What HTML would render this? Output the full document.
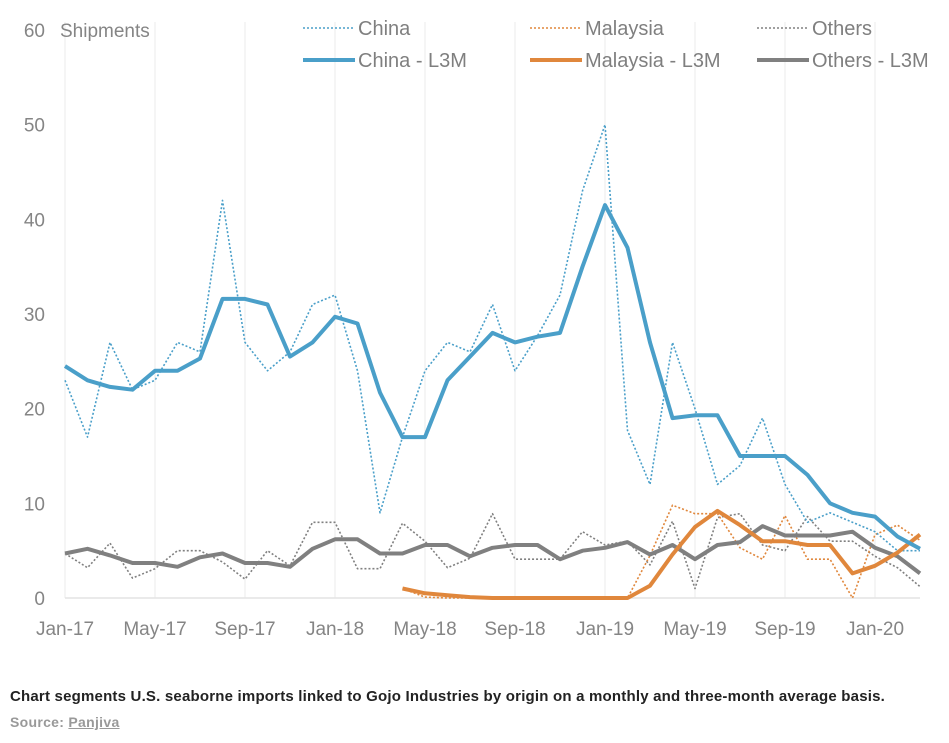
<!DOCTYPE html>
<html><head><meta charset="utf-8"><style>
body{margin:0;background:#fff;width:949px;height:743px;overflow:hidden;font-family:"Liberation Sans",sans-serif}
svg text{font-family:"Liberation Sans",sans-serif}
.cap{position:absolute;left:10px;top:688px;font-size:15px;color:#222;font-weight:bold;letter-spacing:0.2px}
.src{position:absolute;left:10px;top:714px;font-size:14px;color:#999;font-weight:bold;letter-spacing:0.3px}
.src span{text-decoration:underline}
</style></head><body>
<svg id="chart" width="949" height="680" style="position:absolute;left:0;top:0"></svg>
<div class="cap">Chart segments U.S. seaborne imports linked to Gojo Industries by origin on a monthly and three-month average basis.</div>
<div class="src">Source: <span>Panjiva</span></div>
<script>
const xTickLabels=["Jan-17","May-17","Sep-17","Jan-18","May-18","Sep-18","Jan-19","May-19","Sep-19","Jan-20"];
const yTicks=[0,10,20,30,40,50,60];
const chinaMonthly=[23,17,27,22,23,27,26,42,27,24,26,31,32,24,9,17,24,27,26,31,24,27.7,32,43,50,17.7,12,27,20,12,14,19,12,8,9,8,7,5,5];
const chinaL3M=[24.5,23,22.3,22,24,24,25.3,31.6,31.6,31,25.5,27,29.7,29,21.7,17,17,23,25.5,28,27,27.6,28,35,41.5,37,27,19,19.3,19.3,15,15,15,13,10,9,8.6,6.5,5.2];
const malaysiaMonthly=[null,null,null,null,null,null,null,null,null,null,null,null,null,null,null,1,0.1,0,0,0,0,0,0,0,0,0,4.5,9.8,8.9,8.9,5.3,4.1,8.7,4.1,4.1,0,6.7,7.7,6.1];
const malaysiaL3M=[null,null,null,null,null,null,null,null,null,null,null,null,null,null,null,1,0.5,0.3,0.1,0,0,0,0,0,0,0,1.3,4.6,7.5,9.2,7.7,6,6,5.6,5.6,2.6,3.4,4.8,6.7];
const othersMonthly=[4.7,3.2,5.8,2.1,3.1,5,5,3.8,2,5,3.4,8,8,3.1,3.1,7.9,6,3.2,4.2,8.9,4.1,4.1,4.1,7,5.6,6,3.5,8.1,1,8.5,8.9,5.6,5,8.6,6,6,4.4,3.2,1.2];
const othersL3M=[4.7,5.2,4.5,3.7,3.7,3.3,4.3,4.7,3.7,3.7,3.3,5.2,6.2,6.2,4.7,4.7,5.6,5.6,4.4,5.3,5.6,5.6,4.1,5,5.3,5.9,4.6,5.6,4.1,5.6,5.9,7.6,6.6,6.6,6.6,7,5.3,4.4,2.6];

const svg=document.getElementById('chart');const NS='http://www.w3.org/2000/svg';
const X=i=>65+i*22.5, Y=v=>598-v*(568/60);
function mk(t,a,p){const e=document.createElementNS(NS,t);for(const k in a)e.setAttribute(k,a[k]);(p||svg).appendChild(e);return e;}
xTickLabels.forEach((l,k)=>{
  const g=mk('line',{x1:X(k*4),x2:X(k*4),y1:22,y2:598,stroke:'#ebebeb','stroke-width':1});
  
  
  const t=mk('text',{x:X(k*4),y:635,'text-anchor':'middle','font-size':19,fill:'#858585'});t.textContent=l;
  
  
});
const ax=mk('line',{x1:65,x2:920,y1:598,y2:598,stroke:'#e3e3e3','stroke-width':1.5});


yTicks.forEach(v=>{
  const t=mk('text',{x:45,y:Y(v)+7,'text-anchor':'end','font-size':19,fill:'#858585'});t.textContent=v;
  
  
});
const yt=mk('text',{x:60,y:37,'font-size':19,fill:'#858585'});yt.textContent='Shipments';


function series(arr,color,w,dash,name){
  let d='';let pen=false;
  arr.forEach((v,i)=>{if(v==null){pen=false;return;}d+=(pen?'L':'M')+X(i).toFixed(1)+' '+Y(v).toFixed(1);pen=true;});
  const p=mk('path',{d:d,fill:'none',stroke:color,'stroke-width':w,'stroke-linejoin':'round'});
  if(dash)p.setAttribute('stroke-dasharray',dash);
  
  
}
const blue='#4a9fc9',orange='#e0873c',grey='#808080';
series(othersMonthly,grey,1.6,'2 2','others-monthly-line');
series(malaysiaMonthly,orange,1.6,'2 2','malaysia-monthly-line');
series(chinaMonthly,blue,1.6,'2 2','china-monthly-line');
series(othersL3M,grey,4,null,'others-l3m-line');
series(malaysiaL3M,orange,4,null,'malaysia-l3m-line');
series(chinaL3M,blue,4,null,'china-l3m-line');
const legend=[["China",blue,'2 2',1.6,303,28],["Malaysia",orange,'2 2',1.6,530,28],["Others",grey,'2 2',1.6,757,28],
["China - L3M",blue,null,4,303,60],["Malaysia - L3M",orange,null,4,530,60],["Others - L3M",grey,null,4,757,60]];
legend.forEach(l=>{
  const g=mk('g',{});
  
  
  const ln=mk('line',{x1:l[4],x2:l[4]+52,y1:l[5],y2:l[5],stroke:l[1],'stroke-width':l[3]},g);
  if(l[2])ln.setAttribute('stroke-dasharray',l[2]);
  const t=mk('text',{x:l[4]+55,y:l[5]+7,'font-size':20,fill:'#7f7f7f'},g);t.textContent=l[0];
});
</script>
</body></html>
